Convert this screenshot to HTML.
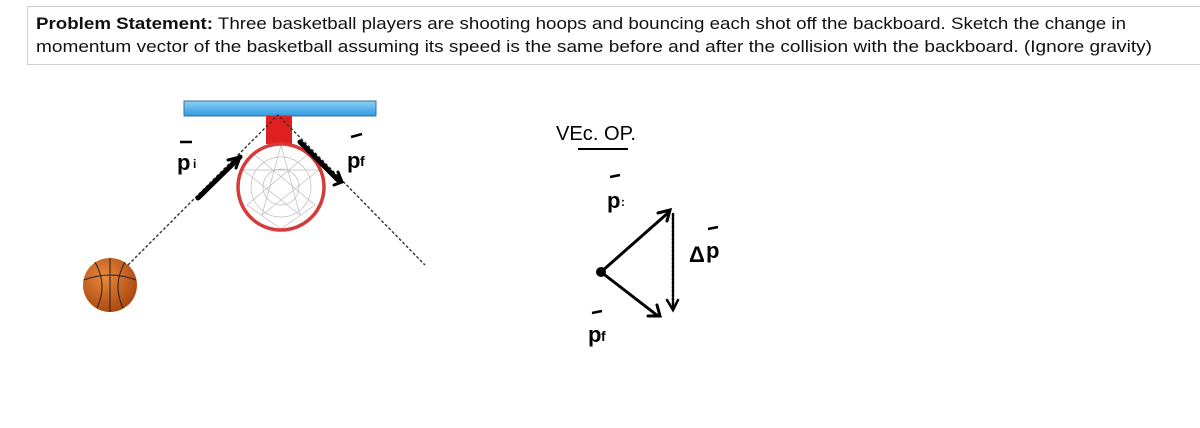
<!DOCTYPE html>
<html><head><style>
body{margin:0;background:#fff;width:1200px;height:423px;overflow:hidden}
</style></head><body>
<svg width="1200" height="423" xmlns="http://www.w3.org/2000/svg" font-family="Liberation Sans, sans-serif">
<rect x="27.5" y="6.5" width="1180" height="58" fill="#fff" stroke="#d0d0d0"/>
<text x="36" y="29" font-size="17" fill="#111" textLength="1090" lengthAdjust="spacingAndGlyphs"><tspan font-weight="bold">Problem Statement:</tspan>  Three basketball players are shooting hoops and bouncing each shot off the backboard.  Sketch the change in</text>
<text x="36" y="52" font-size="17" fill="#111" textLength="1116" lengthAdjust="spacingAndGlyphs">momentum vector of the basketball assuming its speed is the same before and after the collision with the backboard.  (Ignore gravity)</text>
<defs><linearGradient id="bb" x1="0" y1="0" x2="0" y2="1"><stop offset="0" stop-color="#8fd0f5"/><stop offset="1" stop-color="#2f9be0"/></linearGradient>
<radialGradient id="ball" cx="0.4" cy="0.35" r="0.7"><stop offset="0" stop-color="#e88a3c"/><stop offset="1" stop-color="#a8440f"/></radialGradient></defs>
<rect x="184" y="101" width="192" height="15" fill="url(#bb)" stroke="#3a6f95"/>
<rect x="266" y="116" width="26" height="28" fill="#e02020"/>
<g stroke="#bbb" stroke-width="0.7" fill="none">
<circle cx="281" cy="187" r="30"/><circle cx="281" cy="187" r="18"/>
<path d="M281 145 L300 215 L243 170 L319 170 L262 215 Z"/>
<path d="M255 155 L315 205 L281 229 L247 205 L307 155"/>
</g>
<circle cx="281" cy="187" r="43" fill="none" stroke="#d63a3a" stroke-width="3.5"/>
<circle cx="110" cy="285" r="27" fill="url(#ball)"/>
<g stroke="#222" stroke-width="1" fill="none"><path d="M84 280 Q110 270 136 280"/><path d="M110 258 L110 312"/><path d="M95 262 Q108 285 97 308"/><path d="M125 262 Q112 285 123 308"/></g>
<path d="M128 265 L278 115 L425 265" stroke="#333" stroke-width="1.4" stroke-dasharray="3,2" fill="none"/>
<g stroke="#000" stroke-width="5" stroke-linecap="round" fill="none">
<path d="M198 198 L240 157"/><path d="M228 160 L240 157 L236 168" stroke-width="3"/>
<path d="M300 142 L338 180"/><path d="M338 172 L342 182 L334 185" stroke-width="3"/>
</g>
<g font-family="Liberation Sans, sans-serif" font-size="22" font-weight="bold" fill="#000">
<text x="177" y="170">p</text><text x="193" y="168" font-size="12">i</text><path d="M180 142 L192 142" stroke="#000" stroke-width="2.5"/>
<text x="347" y="168">p</text><text x="360" y="166" font-size="14">f</text><path d="M351 137 L362 134" stroke="#000" stroke-width="2.5"/>
<text x="556" y="140" font-size="20" font-weight="normal" textLength="80" lengthAdjust="spacingAndGlyphs">VEc. OP.</text>
<path d="M578 149 L628 149" stroke="#000" stroke-width="2"/>
<text x="607" y="208">p</text><text x="621" y="206" font-size="12">:</text><path d="M610 177 L620 175" stroke="#000" stroke-width="2.5"/>
<text x="588" y="342">p</text><text x="601" y="341" font-size="14">f</text><path d="M592 313 L602 311" stroke="#000" stroke-width="2.5"/>
<text x="689" y="262" font-size="22">Δ</text><text x="706" y="258">p</text><path d="M708 229 L718 227" stroke="#000" stroke-width="2.5"/>
</g>
<circle cx="601" cy="272" r="5" fill="#000"/>
<g stroke="#000" stroke-width="3" fill="none" stroke-linecap="round">
<path d="M601 272 L669 212"/><path d="M658 213 L670 210 L667 221"/>
<path d="M601 272 L658 316"/><path d="M648 316 L660 316 L657 305"/>
<path d="M673 214 L673 308" stroke-dasharray="2,2" stroke-width="2.5"/><path d="M667 300 L673 310 L678 300" stroke-width="2.5"/>
</g>
</svg>
</body></html>
